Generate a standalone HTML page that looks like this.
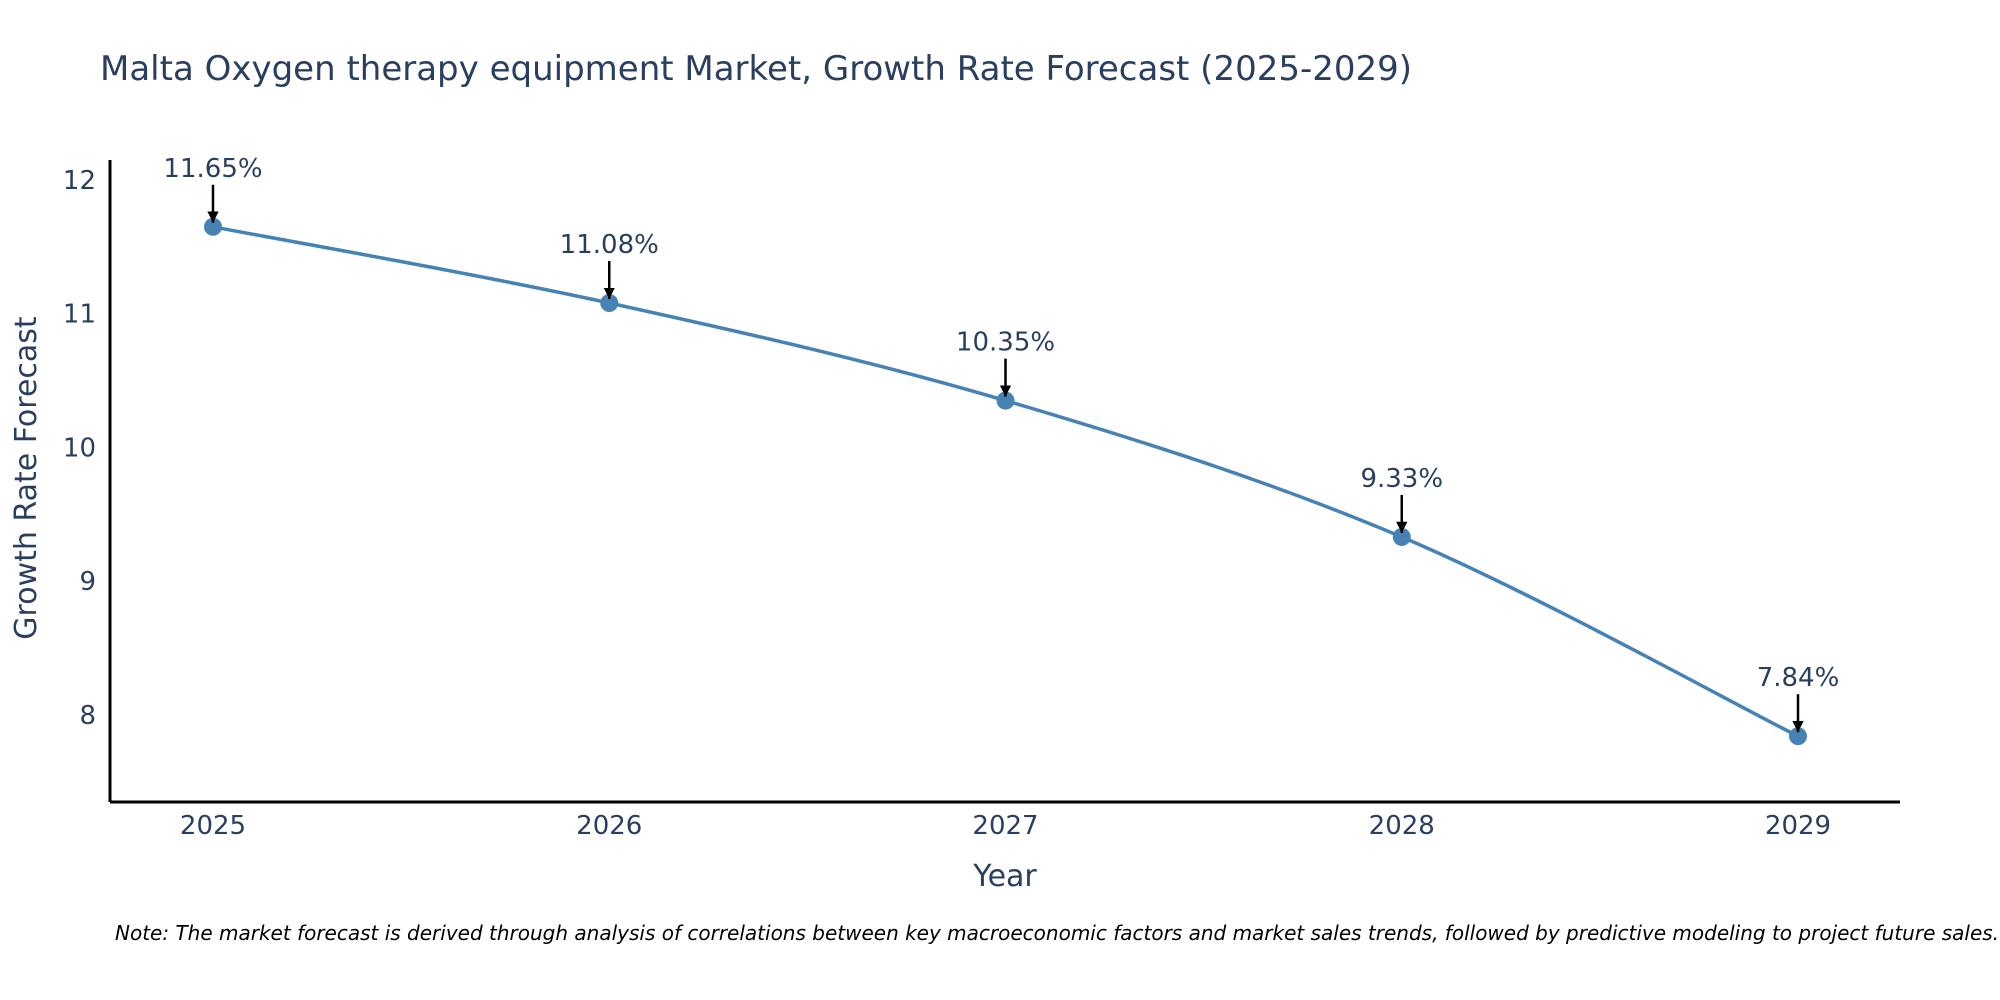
<!DOCTYPE html>
<html><head><meta charset="utf-8"><style>
html,body{margin:0;padding:0;background:#fff;}
svg{display:block;font-family:"DejaVu Sans","Liberation Sans",sans-serif;}
</style></head><body>
<svg id="chart" width="2000" height="1000" viewBox="0 0 2000 1000">
<text x="100" y="80" font-size="34" fill="#2a3f5f">Malta Oxygen therapy equipment Market, Growth Rate Forecast (2025-2029)</text>
<g id="yticks"></g>
<g id="xticks"></g>
<line x1="110" y1="160" x2="110" y2="802" stroke="#000" stroke-width="3"/>
<line x1="110" y1="802" x2="1900" y2="802" stroke="#000" stroke-width="3"/>
<text transform="translate(36,478) rotate(-90)" text-anchor="middle" font-size="30" fill="#2a3f5f">Growth Rate Forecast</text>
<text x="1005" y="886" text-anchor="middle" font-size="30" fill="#2a3f5f">Year</text>
<path id="line" fill="none" stroke="#4682b4" stroke-width="3.5"/>
<g id="points"></g>
<defs><marker id="ah" viewBox="0 0 10 10" refX="10" refY="5" markerWidth="4.5" markerHeight="4.5" markerUnits="strokeWidth" orient="auto"><path d="M0,0 L10,5 L0,10 z" fill="#000"/></marker></defs>
<text x="115" y="940" font-size="20" font-style="italic" fill="#000">Note: The market forecast is derived through analysis of correlations between key macroeconomic factors and market sales trends, followed by predictive modeling to project future sales.</text>
</svg>
<script>
const years = ['2025','2026','2027','2028','2029'];
const values = [11.65, 11.08, 10.35, 9.33, 7.84];
const labels = ['11.65%','11.08%','10.35%','9.33%','7.84%'];
const yTickValues = [8, 9, 10, 11, 12];
const NS = 'http://www.w3.org/2000/svg';
const xS = i => 213 + i * 396.25;
const yS = v => 180 + (12 - v) * 133.7;
function mk(tag, attrs, parent, txt){
  const e = document.createElementNS(NS, tag);
  for (const k in attrs) e.setAttribute(k, attrs[k]);
  if (txt !== undefined) e.textContent = txt;
  parent.appendChild(e); return e;
}
const yt = document.getElementById('yticks');
yTickValues.forEach(v => {
  const t = mk('text', {x: 96, y: yS(v) + 9, 'text-anchor': 'end', 'font-size': 26, fill: '#2a3f5f'}, yt, String(v));
  
  
});
const xt = document.getElementById('xticks');
years.forEach((y, i) => {
  const t = mk('text', {x: xS(i), y: 834, 'text-anchor': 'middle', 'font-size': 26, fill: '#2a3f5f'}, xt, y);
  
  
});
const pts = values.map((v, i) => [xS(i), yS(v)]);
let d = 'M' + pts[0][0] + ',' + pts[0][1];
for (let i = 0; i < pts.length - 1; i++) {
  const p0 = pts[Math.max(i - 1, 0)], p1 = pts[i], p2 = pts[i + 1], p3 = pts[Math.min(i + 2, pts.length - 1)];
  const c1 = [p1[0] + (p2[0] - p0[0]) / 6, p1[1] + (p2[1] - p0[1]) / 6];
  const c2 = [p2[0] - (p3[0] - p1[0]) / 6, p2[1] - (p3[1] - p1[1]) / 6];
  d += ' C' + c1.join(',') + ' ' + c2.join(',') + ' ' + p2.join(',');
}
document.getElementById('line').setAttribute('d', d);
const pg = document.getElementById('points');
const svg = document.getElementById('chart');
pts.forEach((p, i) => {
  const c = mk('circle', {cx: p[0], cy: p[1], r: 9, fill: '#4682b4'}, pg);
  
  
  const a = mk('line', {x1: p[0], y1: p[1] - 42, x2: p[0], y2: p[1] - 4, stroke: '#000', 'stroke-width': 2.5, 'marker-end': 'url(#ah)'}, svg);
  
  
  const t = mk('text', {x: p[0], y: p[1] - 50, 'text-anchor': 'middle', 'font-size': 26, fill: '#2a3f5f'}, svg, labels[i]);
  
  
});
</script>
</body></html>
